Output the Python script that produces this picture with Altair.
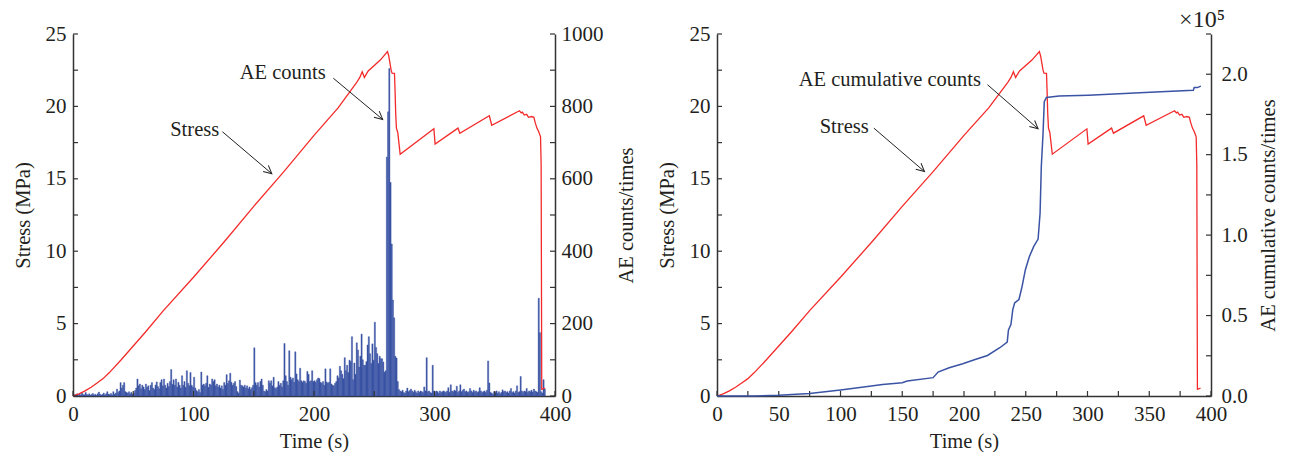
import altair as alt
import pandas as pd

FONT = "Liberation Serif"
LFS = 21     # tick labels
TFS = 20.5   # axis titles
AFS = 20.5   # annotations
RED = "#F42A2A"
BLUE = "#3A53A4"
AXIS_COLOR = "#333333"
TEXT_COLOR = "#231F20"

# ---------------- data ----------------
# AE counts per second (left panel), t = 0, 1, 2, ...
AE_COUNTS = [
    2, 4, 3, 6, 2, 5, 3, 8, 4, 3,
    10, 4, 3, 6, 2, 4, 7, 3, 5, 2,
    6, 11, 5, 3, 4, 8, 3, 6, 12, 5,
    4, 7, 3, 12, 5, 8, 19, 10, 14, 37,
    22, 30, 37, 12, 10, 8, 12, 6, 10, 4,
    8, 15, 22, 47, 28, 33, 20, 30, 25, 18,
    33, 24, 28, 15, 30, 37, 22, 18, 30, 39,
    26, 20, 37, 45, 28, 47, 30, 22, 35, 26,
    40, 73, 32, 45, 30, 47, 25, 38, 30, 22,
    56, 30, 40, 24, 70, 35, 28, 65, 30, 25,
    52, 22, 15, 12, 18, 10, 66, 30, 33, 28,
    35, 56, 24, 33, 30, 47, 40, 45, 28, 33,
    25, 30, 22, 28, 18, 37, 30, 59, 35, 42,
    63, 38, 30, 35, 40, 26, 12, 8, 44, 30,
    28, 25, 30, 22, 28, 20, 25, 18, 23, 30,
    133, 37, 30, 37, 25, 40, 47, 30, 14, 12,
    18, 14, 42, 35, 42, 28, 52, 23, 20, 25,
    40, 30, 35, 25, 42, 145, 56, 40, 30, 125,
    52, 45, 50, 38, 122, 61, 45, 40, 77, 42,
    38, 42, 40, 35, 68, 60, 40, 42, 70, 40,
    42, 38, 45, 50, 48, 38, 35, 40, 30, 75,
    39, 35, 38, 75, 33, 30, 28, 35, 40, 56,
    50, 82, 70, 60, 48, 106, 70, 85, 65, 99,
    95, 164, 45, 91, 60, 147, 127, 80, 110, 171,
    100, 85, 85, 95, 141, 164, 117, 90, 144, 99,
    204, 134, 117, 90, 110, 103, 103, 94, 66, 70,
    660, 785, 905, 590, 420, 265, 216, 110, 105, 40,
    18, 14, 12, 16, 10, 8, 14, 22, 12, 15,
    19, 14, 10, 16, 12, 8, 14, 10, 14, 12,
    10, 25, 14, 106, 12, 14, 10, 8, 85, 14,
    10, 14, 12, 8, 14, 10, 12, 14, 12, 10,
    14, 23, 10, 31, 14, 12, 16, 14, 27, 10,
    14, 31, 12, 16, 19, 12, 14, 10, 12, 21,
    14, 10, 16, 12, 14, 10, 12, 23, 14, 10,
    12, 14, 10, 16, 97, 36, 10, 8, 5, 12,
    10, 14, 8, 12, 6, 10, 17, 12, 14, 10,
    12, 8, 14, 21, 10, 12, 8, 14, 28, 10,
    12, 54, 14, 10, 14, 12, 21, 10, 14, 12,
    16, 11, 19, 14, 12, 10, 270, 175, 12, 8,
    45, 20,
]
AE_TIME = list(range(len(AE_COUNTS)))

# Stress curve (both panels)
STRESS_T = [0, 5, 10, 15, 20, 25, 30, 40, 50, 60,
            75, 100, 125, 150, 175, 200, 220, 235, 238, 240,
            241.8, 245, 255, 261, 262, 263, 264, 264.8, 266.8, 267.3,
            267.8, 268.4, 269.5, 271.5, 299.5, 300.5, 319.5, 321, 345.5, 347.5,
            370.5, 372, 373, 374.5, 376.5, 378, 380.5, 382.5, 383.5, 385,
            386.5, 388, 388.5, 389, 391.5]
STRESS_V = [0, 0.15, 0.35, 0.6, 0.9, 1.2, 1.6, 2.5, 3.45, 4.4,
            5.9, 8.2, 10.6, 13.1, 15.5, 18.0, 19.9, 21.6, 22.0, 22.4,
            22.0, 22.45, 23.2, 23.78, 23.5, 23.0, 22.5, 22.3, 22.28, 21.0,
            19.5, 18.5, 18.2, 16.7, 18.45, 17.4, 18.5, 18.15, 19.35, 18.7,
            19.7, 19.55, 19.6, 19.4, 19.45, 19.25, 19.3, 19.25, 18.9, 18.5,
            18.25, 17.9, 16.0, 0.46, 0.55]

# AE cumulative counts (right panel)
CUM_T = [0, 30, 50, 75, 100, 125, 134, 150, 154, 175,
         179, 188, 199, 209, 219, 229, 235, 236, 238, 239.5,
         241, 244.5, 247, 249.7, 253, 256.5, 260, 261.6, 262.6, 264,
         265, 266.7, 277, 300.7, 350.7, 385.7, 386.4, 389, 391.8]
CUM_V = [0, 0, 400, 1500, 3700, 6200, 7200, 8300, 9300, 11400,
         14900, 17600, 20000, 22700, 25200, 30000, 33500, 41000, 44400, 53700,
         57800, 60000, 68000, 78500, 86800, 93000, 97500, 113600, 142600, 163200,
         183000, 185500, 186400, 187000, 188800, 190000, 191700, 191700, 192600]

# annotations (data coordinates: time, stress)
L_TEXT = ["Stress", "AE counts"]
L_TEXT_X = [101, 174]
L_TEXT_Y = [18.4, 22.3]
L_ARROW_X = [124, 216]
L_ARROW_Y = [18.25, 21.95]
L_ARROW_X2 = [165, 257]
L_ARROW_Y2 = [15.35, 19.1]

R_TEXT = ["Stress", "AE cumulative counts"]
R_TEXT_X = [103, 140]
R_TEXT_Y = [18.6, 21.85]
R_ARROW_X = [127, 219]
R_ARROW_Y = [18.5, 21.5]
R_ARROW_X2 = [168, 260]
R_ARROW_Y2 = [15.5, 18.45]

# axis tick values
STRESS_LABELS = [0, 5, 10, 15, 20, 25]
STRESS_TICKS = [0, 2.5, 5, 7.5, 10, 12.5, 15, 17.5, 20, 22.5, 25]
AE_LABELS = [0, 200, 400, 600, 800, 1000]
AE_TICKS = [0, 100, 200, 300, 400, 500, 600, 700, 800, 900, 1000]
CUM_LABELS = [0, 50000, 100000, 150000, 200000]
CUM_TICKS = [0, 25000, 50000, 75000, 100000, 125000, 150000, 175000, 200000, 225000]
XL_LABELS = [0, 100, 200, 300, 400]
XL_TICKS = [0, 50, 100, 150, 200, 250, 300, 350, 400]
XR_LABELS = [0, 50, 100, 150, 200, 250, 300, 350, 400]
XR_TICKS = [0, 25, 50, 75, 100, 125, 150, 175, 200, 225, 250, 275, 300, 325, 350, 375, 400]

H = 362
W_LEFT = 482
W_RIGHT = 494
TICK = 5


def xs():
    return alt.Scale(domain=[0, 400], nice=False, zero=False)


def xax(values):
    return alt.Axis(values=values, title="Time (s)", labelPadding=7,
                    titlePadding=7, labelFlush=False)


def ys():
    return alt.Scale(domain=[0, 25], nice=False, zero=False)


def stress_layers(x_labels, x_ticks, texts, tx, ty, ax, ay, ax2, ay2):
    stress_df = pd.DataFrame({"t": STRESS_T, "s": STRESS_V})
    line = alt.Chart(stress_df).mark_line(color=RED, strokeWidth=1.3).encode(
        x=alt.X("t:Q", scale=xs(), axis=xax(x_labels)),
        y=alt.Y("s:Q", scale=ys(),
                axis=alt.Axis(orient="left", values=STRESS_LABELS, title="Stress (MPa)",
                              labelPadding=7, titlePadding=12)),
    )
    yt = alt.Chart(pd.DataFrame({"v": STRESS_TICKS})).mark_rule(
        color=AXIS_COLOR, strokeWidth=1.2).encode(
        y=alt.Y("v:Q", scale=ys(), axis=None), x=alt.value(0), x2=alt.value(TICK))
    xt = alt.Chart(pd.DataFrame({"v": x_ticks})).mark_rule(
        color=AXIS_COLOR, strokeWidth=1.2).encode(
        x=alt.X("v:Q", scale=xs(), axis=xax(x_labels)), y=alt.value(H), y2=alt.value(H - TICK))
    ann = pd.DataFrame({"label": texts, "x": tx, "y": ty})
    text = alt.Chart(ann).mark_text(font=FONT, fontSize=AFS, color=TEXT_COLOR).encode(
        x=alt.X("x:Q", scale=xs(), axis=xax(x_labels)),
        y=alt.Y("y:Q", scale=ys(), axis=None),
        text="label:N")
    arr = pd.DataFrame({"x": ax, "y": ay, "x2": ax2, "y2": ay2})
    rules = alt.Chart(arr).mark_rule(color="#222222", strokeWidth=1).encode(
        x=alt.X("x:Q", scale=xs(), axis=xax(x_labels)),
        y=alt.Y("y:Q", scale=ys(), axis=None),
        x2="x2:Q", y2="y2:Q")
    heads = alt.Chart(arr).mark_point(
        shape="M -1 -0.5 L 0 0 L -1 0.5", filled=False, size=260, angle=41,
        stroke="#222222", strokeWidth=1, opacity=1).encode(
        x=alt.X("x2:Q", scale=xs(), axis=xax(x_labels)),
        y=alt.Y("y2:Q", scale=ys(), axis=None))
    return [line, yt, xt, text, rules, heads]


# ---------------- left panel ----------------
def aes():
    return alt.Scale(domain=[0, 1000], nice=False)


ae_df = pd.DataFrame({"t": AE_TIME, "c": AE_COUNTS})
bars = alt.Chart(ae_df).transform_calculate(t2="datum.t + 1").mark_bar(
    color=BLUE, stroke=BLUE, strokeWidth=0.4).encode(
    x=alt.X("t:Q", scale=xs(), axis=xax(XL_LABELS)), x2="t2:Q",
    y=alt.Y("c:Q", scale=aes(),
            axis=alt.Axis(orient="right", values=AE_LABELS, title="AE counts/times",
                          format="d", labelPadding=6, titlePadding=13, titleAngle=270,
                          titleBaseline="top")),
    y2=alt.datum(0),
)
ae_ticks = alt.Chart(pd.DataFrame({"v": AE_TICKS})).mark_rule(
    color=AXIS_COLOR, strokeWidth=1.2).encode(
    y=alt.Y("v:Q", scale=aes(), axis=None), x=alt.value(W_LEFT), x2=alt.value(W_LEFT - TICK))

left = alt.layer(
    bars, ae_ticks,
    *stress_layers(XL_LABELS, XL_TICKS, L_TEXT, L_TEXT_X, L_TEXT_Y,
                   L_ARROW_X, L_ARROW_Y, L_ARROW_X2, L_ARROW_Y2),
).resolve_scale(y="independent").properties(width=W_LEFT, height=H)


# ---------------- right panel ----------------
def cs():
    return alt.Scale(domain=[0, 225000], nice=False)


cum_df = pd.DataFrame({"t": CUM_T, "c": CUM_V})
cum_line = alt.Chart(cum_df).mark_line(color=BLUE, strokeWidth=1.5).encode(
    x=alt.X("t:Q", scale=xs(), axis=xax(XR_LABELS)),
    y=alt.Y("c:Q", scale=cs(),
            axis=alt.Axis(orient="right", values=CUM_LABELS,
                          labelExpr="format(datum.value / 100000, '.1f')",
                          title="AE cumulative counts/times",
                          labelPadding=10, titlePadding=11, titleAngle=270,
                          titleBaseline="top")),
)
cum_ticks = alt.Chart(pd.DataFrame({"v": CUM_TICKS})).mark_rule(
    color=AXIS_COLOR, strokeWidth=1.2).encode(
    y=alt.Y("v:Q", scale=cs(), axis=None), x=alt.value(W_RIGHT), x2=alt.value(W_RIGHT - TICK))

right = alt.layer(
    cum_ticks,
    *stress_layers(XR_LABELS, XR_TICKS, R_TEXT, R_TEXT_X, R_TEXT_Y,
                   R_ARROW_X, R_ARROW_Y, R_ARROW_X2, R_ARROW_Y2),
    cum_line,
).resolve_scale(y="independent").properties(
    width=W_RIGHT, height=H,
    title=alt.TitleParams("×10⁵", anchor="end", frame="group", font=FONT, fontSize=24,
                          fontWeight="normal", color=TEXT_COLOR, dx=14, offset=-9),
)

chart = alt.hconcat(left, right, spacing=20).properties(
    padding={"left": 5, "top": 0, "right": 0, "bottom": 0}
).configure_view(stroke=None).configure_axis(
    ticks=False, tickSize=0, grid=False,
    domainColor=AXIS_COLOR, domainWidth=1.5,
    labelFont=FONT, labelFontSize=LFS, labelColor=TEXT_COLOR,
    titleFont=FONT, titleFontSize=TFS, titleFontWeight="normal", titleColor=TEXT_COLOR,
)

chart.save("out.html", embed_options={"renderer": "svg", "actions": False})
